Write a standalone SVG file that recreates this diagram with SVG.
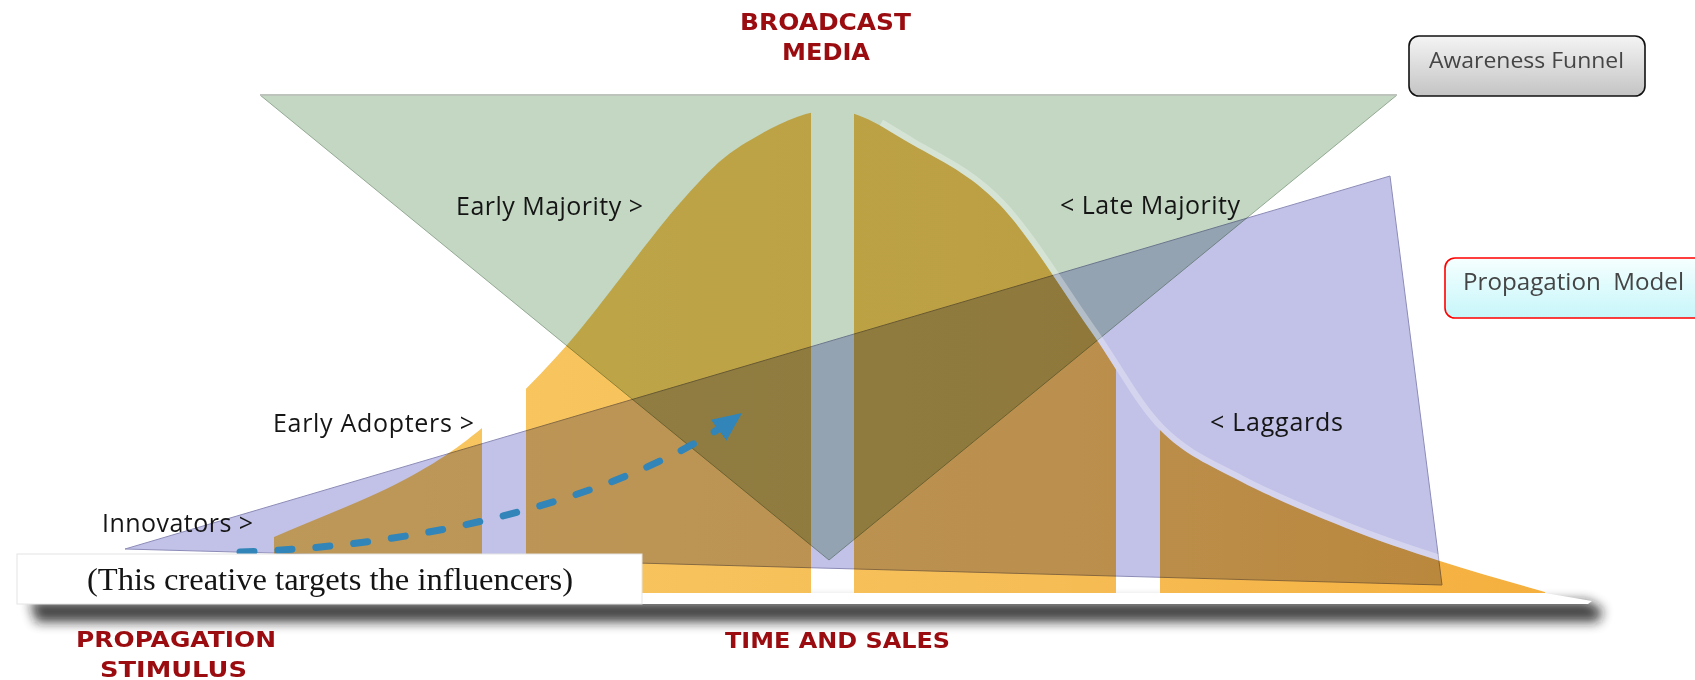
<svg xmlns="http://www.w3.org/2000/svg" width="1695" height="680" viewBox="0 0 1695 680">
  <style>
    .stage { font-family: "Open Sans", "Liberation Sans", sans-serif; font-size: 25px; fill: #151515; }
    .red { font-family: "DejaVu Sans", "Liberation Sans", sans-serif; font-weight: bold; fill: #9a0c10; }
    .boxtext { font-family: "Open Sans", "Liberation Sans", sans-serif; fill: #454545; }
    .mult { mix-blend-mode: multiply; }
  </style>
  <defs>
    <linearGradient id="orange" x1="0" y1="0" x2="1" y2="0">
      <stop offset="0" stop-color="#f8c862"/>
      <stop offset="0.6" stop-color="#f6bd56"/>
      <stop offset="1" stop-color="#f5b03e"/>
    </linearGradient>
    <linearGradient id="grayBox" x1="0" y1="0" x2="0" y2="1">
      <stop offset="0" stop-color="#f4f4f4"/>
      <stop offset="1" stop-color="#c4c4c4"/>
    </linearGradient>
    <linearGradient id="cyanBox" x1="0" y1="0" x2="0" y2="1">
      <stop offset="0" stop-color="#f6ffff"/>
      <stop offset="1" stop-color="#c6f6fa"/>
    </linearGradient>
    <filter id="blur6" x="-10%" y="-150%" width="120%" height="400%">
      <feGaussianBlur stdDeviation="6"/>
    </filter>
    <clipPath id="bars">
      <rect x="274" y="90" width="208" height="510"/>
      <rect x="526" y="90" width="285" height="510"/>
      <rect x="854" y="90" width="262" height="510"/>
      <rect x="1160" y="90" width="390" height="510"/>
    </clipPath>
    <mask id="outsideBell" maskUnits="userSpaceOnUse" x="0" y="0" width="1695" height="680">
      <rect x="0" y="0" width="1695" height="680" fill="#fff"/>
      <path fill="#000" d="M274,537 C316,518.7 365.3,500.2 400,482 C434.7,463.8 454.2,450.8 482,428 C509.8,405.2 534,382.5 567,345 C600,307.5 650,236.8 680,203 C710,169.2 721.5,157.5 747,142 C772.5,126.5 805.3,109.5 833,110 C860.7,110.5 885.2,129.2 913,145 C940.8,160.8 970.5,174.2 1000,205 C1029.5,235.8 1063.3,292.5 1090,330 C1116.7,367.5 1135,404.8 1160,430 C1185,455.2 1209,464.7 1240,481 C1271,497.3 1312.7,514.7 1346,528 C1379.3,541.3 1406.8,550.3 1440,561 C1473.2,571.7 1510,581.7 1545,592 L1545,594 L274,594 Z"/>
    </mask>
    <marker id="arrowHead" markerUnits="userSpaceOnUse" markerWidth="32" markerHeight="32" viewBox="0 0 32 32" refX="29" refY="16" orient="auto">
      <path d="M0,3 L29,16 L0,29 Z" fill="#3185b8"/>
    </marker>
  </defs>

  <rect x="0" y="0" width="1695" height="680" fill="#ffffff"/>

  <!-- base slab with shadow -->
  <g id="base">
    <path d="M30,601 L1588,601 L1603,610 L1598,622 L36,622 Z" fill="#151515" opacity="0.8" filter="url(#blur6)"/>
    <path d="M20,593 L1545,593 L1592,601 L1588,604 L20,604 Z" fill="#ffffff"/>
  </g>

  <!-- bell curve bars -->
  <g id="bell-curve" clip-path="url(#bars)">
    <path fill="url(#orange)" d="M274,537 C316,518.7 365.3,500.2 400,482 C434.7,463.8 454.2,450.8 482,428 C509.8,405.2 534,382.5 567,345 C600,307.5 650,236.8 680,203 C710,169.2 721.5,157.5 747,142 C772.5,126.5 805.3,109.5 833,110 C860.7,110.5 885.2,129.2 913,145 C940.8,160.8 970.5,174.2 1000,205 C1029.5,235.8 1063.3,292.5 1090,330 C1116.7,367.5 1135,404.8 1160,430 C1185,455.2 1209,464.7 1240,481 C1271,497.3 1312.7,514.7 1346,528 C1379.3,541.3 1406.8,550.3 1440,561 C1473.2,571.7 1510,581.7 1545,592 L1545,593 L274,593 Z"/>
  </g>

  <!-- awareness funnel (green) -->
  <g id="awareness-funnel-shape">
    <polygon class="mult" points="260,95 1397,95 829,560" fill="rgb(195,215,195)" stroke="#93aa93" stroke-width="1"/>
    <line x1="260" y1="95" x2="1397" y2="95" stroke="#bcc4bc" stroke-width="2"/>
  </g>

  <!-- propagation model (purple) -->
  <g id="propagation-model-shape">
    <polygon class="mult" points="125,549 1390,176 1442,585" fill="rgb(194,194,232)" stroke="#8c8cb8" stroke-width="1"/>
  </g>

  <!-- light rim along the right side of the curve -->
  <g id="bell-rim" mask="url(#outsideBell)">
    <path d="M880,125 C895,134 905,140 913,145 C940.8,160.8 970.5,174.2 1000,205 C1029.5,235.8 1063.3,292.5 1090,330 C1116.7,367.5 1135,404.8 1160,430 C1185,455.2 1209,464.7 1240,481 C1271,497.3 1312.7,514.7 1346,528 C1379.3,541.3 1406.8,550.3 1440,561 C1473.2,571.7 1510,581.7 1545,592" fill="none" stroke="#ffffff" stroke-width="12" opacity="0.3"/>
  </g>

  <!-- connectors -->
  <g id="connectors">
    <path d="M240,552 C440,546 635,492 742,413" fill="none" stroke="#3185b8" stroke-width="7" stroke-dasharray="14 24" stroke-linecap="round" marker-end="url(#arrowHead)"/>
  </g>

  <!-- stage labels -->
  <g id="stage-labels">
    <text class="stage" x="456" y="215" textLength="187">Early Majority &gt;</text>
    <text class="stage" x="1060" y="214" textLength="180">&lt; Late Majority</text>
    <text class="stage" x="273" y="432" textLength="201">Early Adopters &gt;</text>
    <text class="stage" x="1210" y="431" textLength="133">&lt; Laggards</text>
    <text class="stage" x="102" y="532" textLength="151">Innovators &gt;</text>
  </g>

  <!-- caption box -->
  <g id="caption-box">
    <rect x="17" y="554" width="625" height="50" fill="#ffffff" stroke="#e4e4e4" stroke-width="1"/>
    <text x="87" y="590" textLength="486" lengthAdjust="spacingAndGlyphs" font-family="'Liberation Serif', 'DejaVu Serif', serif" font-size="31" fill="#141414">(This creative targets the influencers)</text>
  </g>

  <!-- red titles -->
  <g id="broadcast-media">
    <text class="red" x="740" y="30" font-size="23" textLength="171" lengthAdjust="spacingAndGlyphs">BROADCAST</text>
    <text class="red" x="782" y="60" font-size="23" textLength="88" lengthAdjust="spacingAndGlyphs">MEDIA</text>
  </g>
  <g id="propagation-stimulus">
    <text class="red" x="76" y="647" font-size="21" textLength="200" lengthAdjust="spacingAndGlyphs">PROPAGATION</text>
    <text class="red" x="100" y="677" font-size="21" textLength="147" lengthAdjust="spacingAndGlyphs">STIMULUS</text>
  </g>
  <g id="time-and-sales">
    <text class="red" x="725" y="648" font-size="21" textLength="225" lengthAdjust="spacingAndGlyphs">TIME AND SALES</text>
  </g>

  <!-- legend boxes -->
  <g id="awareness-funnel-box">
    <rect x="1409" y="36" width="236" height="60" rx="10" ry="10" fill="url(#grayBox)" stroke="#111" stroke-width="1.6"/>
    <text class="boxtext" x="1429" y="68" font-size="22" textLength="195" lengthAdjust="spacingAndGlyphs">Awareness Funnel</text>
  </g>
  <g id="propagation-model-box">
    <rect x="1445" y="258" width="270" height="60" rx="10" ry="10" fill="url(#cyanBox)" stroke="#ff0000" stroke-width="1.6"/>
    <text class="boxtext" x="1463" y="290" font-size="23" textLength="221" lengthAdjust="spacingAndGlyphs" xml:space="preserve">Propagation  Model</text>
  </g>
</svg>
